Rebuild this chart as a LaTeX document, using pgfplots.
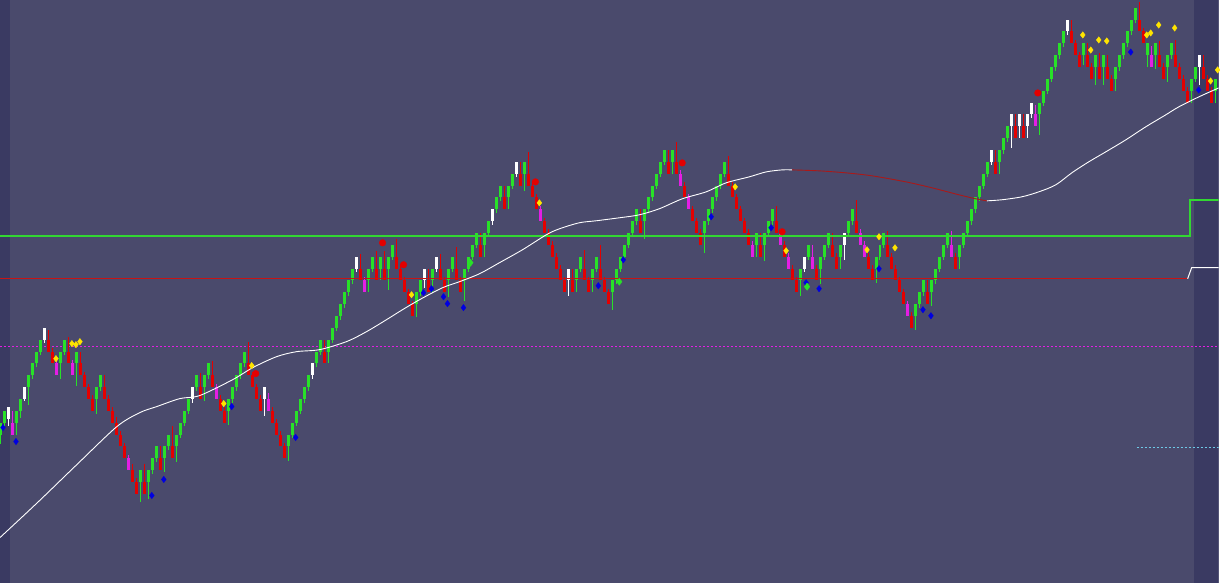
\documentclass[border=0pt]{standalone}
\usepackage{pgfplots}
\pgfplotsset{compat=1.18}
\usepackage{pgfplotstable}
\definecolor{bgmain}{RGB}{74,74,108}
\definecolor{bgside}{RGB}{58,58,98}
\definecolor{cgreen}{RGB}{40,225,40}
\definecolor{cred}{RGB}{228,0,0}
\definecolor{cmag}{RGB}{228,30,228}
\definecolor{cline}{RGB}{50,215,50}
\definecolor{credline}{RGB}{200,20,20}
\definecolor{cyel}{RGB}{255,228,0}
\definecolor{cblue}{RGB}{0,0,225}
\definecolor{cmaroon}{RGB}{170,25,25}
\definecolor{ccyan}{RGB}{110,200,230}
% i = bar index (x = 1+4i px), k = brick bottom, c: 0 green,1 white,2 red,3 magenta, w = wick length
\pgfplotstableread{
i k c w
0 6 0 0.8
1 7 0 0.3
2 7.3 1 0.6
3 6 3 1.0
4 7 0 1.0
5 8 0 0.6
6 9 1 0.2
7 10 0 1.5
8 11 0 0.3
9 12 0 0.3
10 13 0 0.3
11 14 1 0.3
12 13 2 0.8
13 12 2 0.3
14 11 3 0.3
15 12 0 1.3
16 13 0 0.3
17 12 2 1.2
18 11 3 0.3
19 12 0 1.9
20 11 2 1.0
21 10 2 0.3
22 9 2 0.3
23 8 2 0.3
24 9 0 1.3
25 10 0 0.3
26 9 2 1.0
27 8 2 0.3
28 7 2 0.3
29 6 2 0.5
30 5 2 0.3
31 4 2 0.3
32 3 3 0.3
33 2 2 0.5
34 1 2 0.3
35 2 0 1.7
36 1 2 1.5
37 2 0 1.4
38 3 0 0.3
39 4 0 0.3
40 3 2 1.0
41 4 0 1.2
42 5 0 0.3
43 4 2 1.7
44 5 0 1.3
45 6 0 0.3
46 7 0 0.3
47 8 0 0.3
48 9 1 0.3
49 10 0 0.3
50 9 2 1.2
51 10 0 1.2
52 11 0 0.3
53 10 2 1.2
54 9 3 0.3
55 8 2 0.3
56 7 2 0.3
57 8 0 1.2
58 9 0 0.3
59 10 0 0.3
60 11 0 0.3
61 12 0 0.3
62 11 2 1.8
63 10 2 0.3
64 9 2 0.3
65 8 2 0.3
66 9 1 1.4
67 8 3 0.5
68 7 2 0.3
69 6 2 0.3
70 5 2 0.3
71 4 2 0.3
72 5 0 1.2
73 6 0 0.3
74 7 0 0.3
75 8 0 0.3
76 9 0 0.3
77 10 0 0.3
78 11 1 0.3
79 12 0 0.3
80 13 0 0.3
81 12 2 1.0
82 13 0 1.0
83 14 0 0.3
84 15 0 0.3
85 16 0 0.3
86 17 0 0.3
87 18 0 0.3
88 19 0 0.3
89 20 1 0.3
90 19 2 1.2
91 18 3 0.3
92 19 0 1.0
93 20 0 0.3
94 19 2 1.5
95 20 0 1.0
96 19 2 1.5
97 20 0 1.8
98 21 0 0.3
99 20 2 1.5
100 19 2 0.3
101 18 2 0.3
102 17 2 0.3
103 16 2 0.3
104 17 0 1.1
105 18 0 0.3
106 19 1 0.6
107 18 2 1.0
108 19 0 1.0
109 20 1 0.3
110 19 2 1.2
111 18 2 0.3
112 19 0 1.4
113 20 0 0.3
114 19 2 1.8
115 18 2 0.3
116 19 0 1.7
117 20 0 0.3
118 21 0 0.3
119 22 0 0.3
120 21 2 1.0
121 22 0 1.0
122 23 0 0.3
123 24 1 0.3
124 25 0 0.3
125 26 0 0.3
126 25 2 1.0
127 26 0 1.0
128 27 0 0.3
129 28 1 0.3
130 27 2 1.0
131 28 0 1.5
132 27 2 1.8
133 26 2 0.3
134 25 2 0.3
135 24 3 0.3
136 23 2 0.3
137 22 2 0.3
138 21 2 0.3
139 20 2 0.3
140 19 2 0.3
141 18 2 0.3
142 19 1 1.3
143 18 2 1.0
144 19 0 1.0
145 20 0 0.3
146 19 2 1.6
147 18 2 0.3
148 19 0 1.0
149 20 0 0.3
150 19 2 2.0
151 18 2 0.3
152 17 2 0.3
153 18 0 1.5
154 19 0 0.3
155 20 0 0.3
156 21 0 0.3
157 22 0 0.3
158 23 0 0.3
159 24 0 0.3
160 23 2 1.0
161 24 0 1.5
162 25 0 0.3
163 26 0 0.3
164 27 0 0.3
165 28 0 0.3
166 29 0 0.3
167 28 2 1.0
168 29 0 1.0
169 28 2 1.7
170 27 3 0.3
171 26 2 0.3
172 25 3 0.3
173 24 2 0.3
174 23 2 0.3
175 22 2 0.3
176 23 0 1.7
177 24 0 0.3
178 25 0 0.3
179 26 0 0.3
180 27 0 0.3
181 28 0 0.3
182 27 2 1.5
183 26 2 0.3
184 25 2 0.3
185 24 2 0.3
186 23 2 0.3
187 22 2 0.3
188 21 3 0.3
189 22 0 1.0
190 21 2 1.0
191 22 0 1.4
192 23 0 0.3
193 24 0 0.3
194 23 2 1.3
195 22 3 0.3
196 21 2 0.3
197 20 3 0.3
198 19 2 0.3
199 18 2 0.3
200 19 0 1.3
201 20 1 0.3
202 21 0 0.3
203 20 3 1.0
204 19 2 0.3
205 20 0 1.3
206 21 0 0.3
207 22 0 0.3
208 21 2 1.0
209 20 2 0.3
210 21 0 1.0
211 22 1 1.3
212 23 0 0.3
213 24 0 0.3
214 23 2 1.8
215 22 3 0.3
216 21 3 0.3
217 20 2 0.3
218 19 2 0.3
219 20 0 1.2
220 21 0 0.3
221 22 0 0.3
222 21 2 1.2
223 20 2 0.3
224 19 2 0.3
225 18 2 0.3
226 17 2 0.3
227 16 3 0.3
228 15 2 0.3
229 16 0 1.2
230 17 0 0.3
231 18 0 0.3
232 17 2 1.0
233 18 0 1.2
234 19 0 0.3
235 20 0 0.3
236 21 0 0.3
237 22 0 0.3
238 21 3 1.2
239 20 2 0.3
240 21 0 1.0
241 22 0 0.3
242 23 0 0.3
243 24 0 0.3
244 25 0 0.3
245 26 0 0.3
246 27 0 0.3
247 28 0 0.3
248 29 1 0.3
249 28 2 1.0
250 29 0 1.0
251 30 0 0.3
252 31 0 0.3
253 32 1 1.8
254 31 2 1.0
255 32 1 1.0
256 31 2 1.0
257 32 1 1.0
258 33 1 0.3
259 32 3 0.8
260 33 0 1.7
261 34 0 0.3
262 35 0 0.3
263 36 0 0.3
264 37 0 0.3
265 38 0 0.3
266 39 0 0.3
267 40 1 0.3
268 39 2 1.0
269 38 2 0.3
270 37 2 0.3
271 38 0 0.8
272 37 2 1.0
273 36 2 0.3
274 37 0 1.5
275 36 2 1.2
276 37 0 1.5
277 36 2 1.0
278 35 2 0.3
279 36 0 1.0
280 37 0 0.3
281 38 0 0.3
282 39 0 0.3
283 40 0 0.3
284 41 0 0.3
285 40 2 1.5
286 39 2 0.3
287 38 0 1.0
288 37 3 0.8
289 38 0 1.2
290 37 2 1.2
291 36 2 0.3
292 37 0 1.3
293 38 0 0.3
294 37 2 1.3
295 36 2 0.3
296 35 2 0.3
297 34 2 0.3
298 35 0 1.0
299 36 0 0.3
300 37 1 1.5
301 36 2 1.0
302 35 2 0.3
303 34 2 0.3
304 35 0 1.0
}\bars
\pgfplotsset{
  body/.style={draw=none, mark=none,
    error bars/y dir=both, error bars/y explicit, error bars/error mark=none,
    error bars/error bar style={solid, line width=3pt, draw=#1}},
  wick/.style={draw=none, mark=none,
    error bars/y dir=both, error bars/y explicit, error bars/error mark=none,
    error bars/error bar style={solid, line width=1pt, draw=#1}},
}
\begin{document}
\begin{tikzpicture}
\begin{axis}[width=1220pt, height=584pt, scale only axis,
  xmin=0, xmax=1220, ymin=-6.55, ymax=42.65,
  axis lines=none, ticks=none, clip=true]
\fill[bgmain] (rel axis cs:0,0) rectangle (rel axis cs:1,1);
\fill[bgside] (axis cs:0,-6.55) rectangle (axis cs:10,42.65);
\fill[bgside] (axis cs:1195,-6.55) rectangle (axis cs:1220,42.65);
% horizontal indicator lines
\addplot[cmag, line width=1.6pt, dash pattern=on 2pt off 2pt] coordinates {(0,13.41) (1220,13.41)};
\addplot[ccyan, line width=1.3pt, dash pattern=on 2pt off 2pt] coordinates {(1138,4.90) (1220,4.90)};
% wicks
\addplot[wick=cgreen, restrict expr to domain={\thisrow{c}}{0:0}] table[x expr=1+4*\thisrow{i}, y expr=\thisrow{k}+0.5-\thisrow{w}/2, y error expr=0.5+\thisrow{w}/2] {\bars};
\addplot[wick=white, restrict expr to domain={\thisrow{c}}{1:1}] table[x expr=1+4*\thisrow{i}, y expr=\thisrow{k}+0.5-\thisrow{w}/2, y error expr=0.5+\thisrow{w}/2] {\bars};
\addplot[wick=cred, restrict expr to domain={\thisrow{c}}{2:2}] table[x expr=1+4*\thisrow{i}, y expr=\thisrow{k}+0.5+\thisrow{w}/2, y error expr=0.5+\thisrow{w}/2] {\bars};
\addplot[wick=cmag, restrict expr to domain={\thisrow{c}}{3:3}] table[x expr=1+4*\thisrow{i}, y expr=\thisrow{k}+0.5+\thisrow{w}/2, y error expr=0.5+\thisrow{w}/2] {\bars};
% bodies
\addplot[body=cgreen, restrict expr to domain={\thisrow{c}}{0:0}] table[x expr=1+4*\thisrow{i}, y expr=\thisrow{k}+0.5, y error expr=0.5] {\bars};
\addplot[body=white, restrict expr to domain={\thisrow{c}}{1:1}] table[x expr=1+4*\thisrow{i}, y expr=\thisrow{k}+0.5, y error expr=0.5] {\bars};
\addplot[body=cred, restrict expr to domain={\thisrow{c}}{2:2}] table[x expr=1+4*\thisrow{i}, y expr=\thisrow{k}+0.5, y error expr=0.5] {\bars};
\addplot[body=cmag, restrict expr to domain={\thisrow{c}}{3:3}] table[x expr=1+4*\thisrow{i}, y expr=\thisrow{k}+0.5, y error expr=0.5] {\bars};
% green and red levels
\addplot[cline, line width=2pt] coordinates {(0,22.76) (1191,22.76) (1191,25.80) (1220,25.80)};
\addplot[credline, line width=1.2pt] coordinates {(0,19.14) (1189,19.14)};
\addplot[white, line width=1pt] coordinates {(1189,19.14) (1193,20.07) (1220,20.07)};
% moving average
\addplot[white, line width=0.9pt, smooth] coordinates {
(0,-2.69) (38,0.30) (77,3.47) (117,6.67) (140,7.85) (157,8.36) (180,9.03)
(200,9.29) (233,10.63) (253,11.64) (277,12.57) (297,12.99) (320,13.16) (347,13.84)
(367,14.68) (387,15.69) (403,16.53) (420,17.37) (443,18.38) (460,18.89) (480,19.56)
(500,20.49) (523,21.58) (547,22.85) (560,23.35) (580,23.86) (597,24.03) (620,24.28)
(640,24.53) (660,25.04) (683,25.88) (707,26.47) (727,27.23) (750,27.73) (767,28.15)
(783,28.32) (793,28.32)};
\addplot[cmaroon, line width=0.9pt, smooth] coordinates {
(793,28.32) (820,28.24) (847,28.07) (873,27.82) (907,27.31) (933,26.81) (960,26.22)
(977,25.88) (988,25.71)};
\addplot[white, line width=0.9pt, smooth] coordinates {
(988,25.71) (1003,25.80) (1023,26.05) (1040,26.47) (1057,27.06) (1073,28.07) (1090,29.00)
(1107,29.84) (1127,30.85) (1147,31.95) (1167,32.96) (1180,33.63) (1200,34.47) (1220,35.23)};
% markers
\addplot[only marks, mark=diamond*, mark size=3.2pt, cyel, mark options={draw=cyel, fill=cyel}] coordinates {
(56,12.40) (72,13.67) (76,13.58) (80,13.83) (224,8.61) (252,11.81) (412,17.79) (540,25.54)
(736,26.89) (787,21.50) (868,21.58) (880,22.68) (896,21.75) (1084,39.70) (1092,38.43)
(1100,39.28) (1108,39.19) (1148,39.70) (1152,39.87) (1160,40.54) (1176,40.29) (1212,35.82) (1219,36.75)};
\addplot[only marks, mark=diamond*, mark size=3.2pt, cblue, mark options={draw=cblue, fill=cblue}] coordinates {
(3,6.59) (16,5.41) (152,0.86) (164,2.21) (232,8.36) (296,5.75) (424,17.96) (432,18.30)
(444,17.62) (448,17.04) (464,16.70) (599,18.55) (624,20.74) (712,24.37) (772,23.44)
(807,18.80) (820,18.30) (880,19.98) (924,16.53) (932,16.02) (1132,38.26) (1200,35.06)};
\addplot[only marks, mark=*, mark size=3.3pt, cred, mark options={draw=cred, fill=cred}] coordinates {
(383,22.17) (404,20.32) (536,27.31) (683,28.91) (783,23.10) (1039,34.81) (256,11.14)};
\addplot[only marks, mark=diamond*, mark size=3.6pt, cgreen, mark options={draw=cgreen, fill=cgreen}] coordinates {
(471,20.49) (620,18.89) (808,18.47)};
\end{axis}
\end{tikzpicture}
\end{document}
